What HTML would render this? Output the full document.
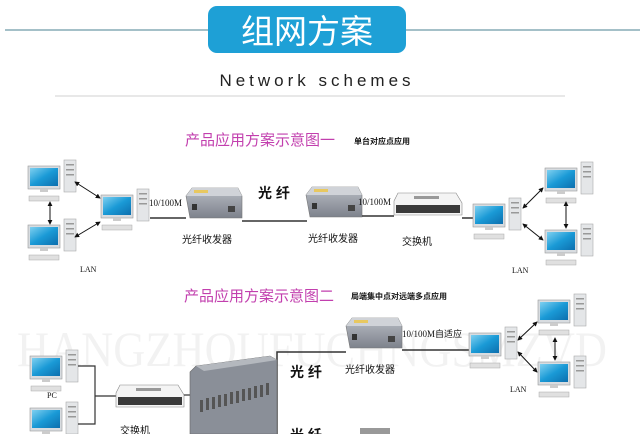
<!DOCTYPE html>
<html><head><meta charset="utf-8"><style>
html,body{margin:0;padding:0;background:#fff;}
svg{display:block;}
</style></head><body>
<svg width="640" height="434" viewBox="0 0 640 434" xmlns="http://www.w3.org/2000/svg" style="font-family:'Liberation Sans','Noto Sans CJK SC',sans-serif">
<defs>
<linearGradient id="scr" x1="0" y1="0" x2="1" y2="1"><stop offset="0" stop-color="#7fd0f0"/><stop offset="0.5" stop-color="#1a9ad6"/><stop offset="1" stop-color="#0d6fae"/></linearGradient>
<linearGradient id="box" x1="0" y1="0" x2="0" y2="1"><stop offset="0" stop-color="#b8bcc4"/><stop offset="1" stop-color="#7d828c"/></linearGradient>
<g id="pc">
<rect x="0" y="0" width="32" height="23" fill="#d8dce0" stroke="#999" stroke-width="0.6"/>
<rect x="2" y="2" width="28" height="18" fill="url(#scr)"/>
<rect x="12" y="23" width="8" height="3" fill="#ccc"/>
<rect x="36" y="-6" width="12" height="32" fill="#e4e6e8" stroke="#aaa" stroke-width="0.6"/>
<rect x="38" y="-2" width="8" height="1.5" fill="#999"/><rect x="38" y="3" width="8" height="1.5" fill="#999"/><rect x="38" y="8" width="8" height="1.5" fill="#999"/>
<rect x="1" y="30" width="30" height="5" fill="#e0e0e0" stroke="#aaa" stroke-width="0.5"/>
</g>
<g id="conv">
<polygon points="6,0 52,0 56,8 56,30 4,30 0,8" fill="url(#box)" stroke="#777" stroke-width="0.6"/>
<polygon points="6,0 52,0 56,8 0,8" fill="#d0d3d8"/>
<rect x="8" y="2" width="14" height="3" fill="#e8c860"/>
<rect x="6" y="16" width="5" height="6" fill="#333"/>
<rect x="42" y="18" width="7" height="6" fill="#444"/>
</g>
<g id="sw">
<polygon points="4,0 62,0 68,10 68,22 0,22 0,8" fill="#f4f4f4" stroke="#888" stroke-width="0.6"/>
<rect x="2" y="12" width="64" height="8" fill="#3a3a3a"/>
<rect x="20" y="3" width="25" height="3" fill="#999"/>
</g>
<marker id="ah" viewBox="0 0 6 6" refX="5" refY="3" markerWidth="5" markerHeight="5" orient="auto-start-reverse"><path d="M0,0L6,3L0,6z" fill="#111"/></marker>
</defs>

<line x1="5" y1="30" x2="640" y2="30" stroke="#6e9aa8" stroke-width="1.2"/>
<rect x="208" y="6" width="198" height="47" rx="9" fill="#1ea0d6"/>
<text x="307" y="43" text-anchor="middle" font-size="33" fill="#fff">组网方案</text>
<text x="317" y="86" text-anchor="middle" font-size="17" fill="#222" letter-spacing="4">Network schemes</text>
<line x1="55" y1="96" x2="565" y2="96" stroke="#d0d0d0" stroke-width="1"/>

<text x="312" y="366" text-anchor="middle" font-size="50" fill="#000" fill-opacity="0.05" style="font-family:'Liberation Serif',serif" textLength="590" lengthAdjust="spacingAndGlyphs">HANGZHOUFUCHNGSMZVD</text>

<text x="185" y="145" font-size="15" fill="#c23fae">产品应用方案示意图一</text>
<text x="354" y="144" font-size="8" fill="#111" font-weight="bold">单台对应点应用</text>

<use href="#pc" x="28" y="166"/>
<use href="#pc" x="28" y="225"/>
<use href="#pc" x="101" y="195"/>
<line x1="75" y1="182" x2="100" y2="198" stroke="#111" stroke-width="1" marker-start="url(#ah)" marker-end="url(#ah)"/>
<line x1="75" y1="237" x2="100" y2="222" stroke="#111" stroke-width="1" marker-start="url(#ah)" marker-end="url(#ah)"/>
<line x1="50" y1="202" x2="50" y2="224" stroke="#111" stroke-width="1" marker-start="url(#ah)" marker-end="url(#ah)"/>

<line x1="150" y1="218" x2="186" y2="218" stroke="#333" stroke-width="1.5"/>
<text x="149" y="206" font-size="9" fill="#111" style="font-family:'Liberation Serif',serif">10/100M</text>
<use href="#conv" x="186" y="188"/>
<line x1="242" y1="221" x2="307" y2="221" stroke="#333" stroke-width="1.5"/>
<text x="258" y="198" font-size="14" font-weight="bold" fill="#111">光  纤</text>
<use href="#conv" x="306" y="187"/>
<line x1="362" y1="216" x2="394" y2="216" stroke="#333" stroke-width="1.5"/>
<text x="358" y="205" font-size="9" fill="#111" style="font-family:'Liberation Serif',serif">10/100M</text>
<use href="#sw" x="394" y="193"/>
<line x1="462" y1="218" x2="474" y2="218" stroke="#333" stroke-width="1.5"/>
<text x="182" y="243" font-size="10" fill="#111">光纤收发器</text>
<text x="308" y="242" font-size="10" fill="#111">光纤收发器</text>
<text x="402" y="245" font-size="10" fill="#111">交换机</text>

<use href="#pc" x="473" y="204"/>
<use href="#pc" x="545" y="168"/>
<use href="#pc" x="545" y="230"/>
<line x1="523" y1="208" x2="543" y2="188" stroke="#111" stroke-width="1" marker-start="url(#ah)" marker-end="url(#ah)"/>
<line x1="523" y1="224" x2="543" y2="240" stroke="#111" stroke-width="1" marker-start="url(#ah)" marker-end="url(#ah)"/>
<line x1="566" y1="202" x2="566" y2="228" stroke="#111" stroke-width="1" marker-start="url(#ah)" marker-end="url(#ah)"/>
<text x="80" y="272" font-size="8" fill="#111" style="font-family:'Liberation Serif',serif">LAN</text>
<text x="512" y="273" font-size="8" fill="#111" style="font-family:'Liberation Serif',serif">LAN</text>

<text x="184" y="301" font-size="15" fill="#c23fae">产品应用方案示意图二</text>
<text x="351" y="299" font-size="8" fill="#111" font-weight="bold">局端集中点对远端多点应用</text>

<use href="#conv" x="346" y="318"/>
<polyline points="346,352 277,352 277,434" fill="none" stroke="#333" stroke-width="1.5"/>
<line x1="402" y1="350" x2="470" y2="350" stroke="#333" stroke-width="1.5"/>
<text x="402" y="337" font-size="9" fill="#111" style="font-family:'Liberation Serif','Noto Sans CJK SC',serif">10/100M自适应</text>
<text x="290" y="377" font-size="14" font-weight="bold" fill="#111">光  纤</text>
<text x="345" y="373" font-size="10" fill="#111">光纤收发器</text>
<use href="#pc" x="469" y="333"/>
<use href="#pc" x="538" y="300"/>
<use href="#pc" x="538" y="362"/>
<line x1="518" y1="340" x2="537" y2="322" stroke="#111" stroke-width="1" marker-start="url(#ah)" marker-end="url(#ah)"/>
<line x1="518" y1="352" x2="537" y2="372" stroke="#111" stroke-width="1" marker-start="url(#ah)" marker-end="url(#ah)"/>
<line x1="555" y1="338" x2="555" y2="360" stroke="#111" stroke-width="1" marker-start="url(#ah)" marker-end="url(#ah)"/>
<text x="510" y="392" font-size="8" fill="#111" style="font-family:'Liberation Serif',serif">LAN</text>

<use href="#pc" x="30" y="356"/>
<use href="#pc" x="30" y="408"/>
<text x="47" y="398" font-size="8" fill="#111" style="font-family:'Liberation Serif',serif">PC</text>
<polyline points="78,366 95,366 95,424 78,424" fill="none" stroke="#333" stroke-width="1.2"/>
<line x1="95" y1="396" x2="116" y2="396" stroke="#333" stroke-width="1.2"/>
<use href="#sw" x="116" y="385"/>
<line x1="184" y1="395" x2="194" y2="395" stroke="#333" stroke-width="1.2"/>
<text x="120" y="434" font-size="10" fill="#111">交换机</text>
<polygon points="196,366 270,356 277,360 277,434 190,434 190,372" fill="#8a8f98" stroke="#666" stroke-width="0.6"/>
<polygon points="196,366 270,356 277,360 204,371" fill="#b4b8be"/>
<g fill="#555">
<rect x="200" y="400" width="3" height="12"/><rect x="206" y="398" width="3" height="12"/><rect x="212" y="397" width="3" height="12"/><rect x="218" y="395" width="3" height="12"/><rect x="224" y="394" width="3" height="12"/><rect x="230" y="392" width="3" height="12"/><rect x="236" y="391" width="3" height="12"/><rect x="242" y="389" width="3" height="12"/><rect x="248" y="388" width="3" height="12"/><rect x="254" y="386" width="3" height="12"/><rect x="260" y="385" width="3" height="12"/><rect x="266" y="383" width="3" height="12"/>
</g>
<text x="290" y="440" font-size="14" font-weight="bold" fill="#111">光  纤</text>
<rect x="360" y="428" width="30" height="6" fill="#999"/>
</svg>
</body></html>
